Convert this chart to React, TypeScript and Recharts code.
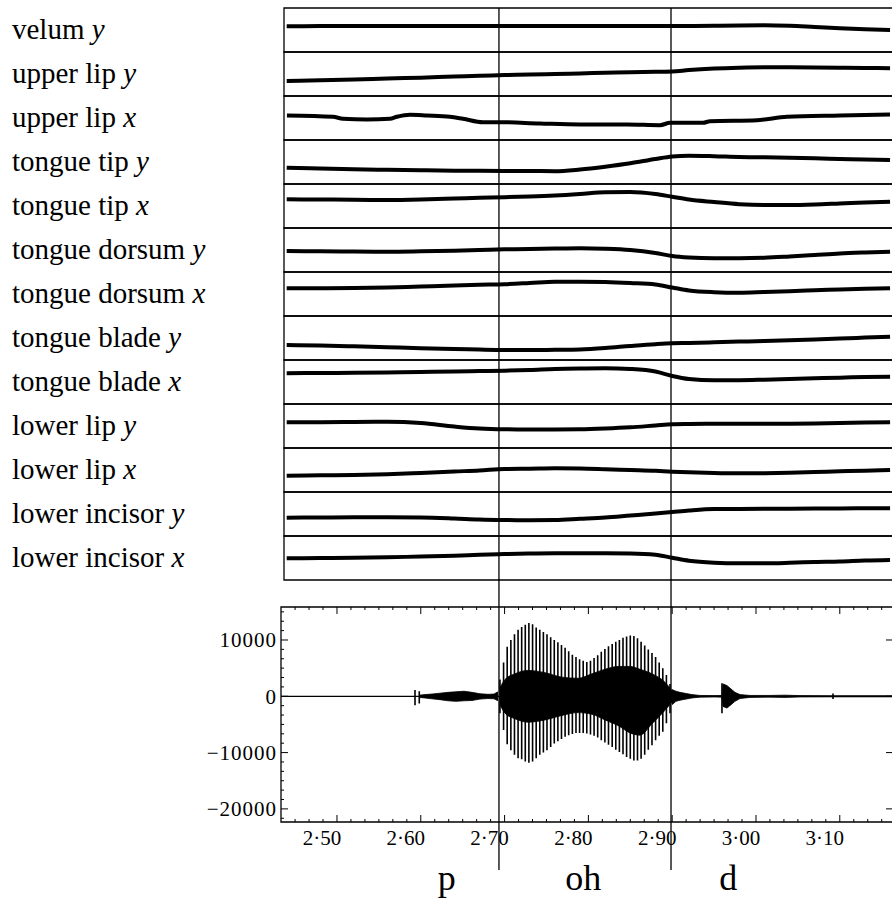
import {
  LineChart, ComposedChart, Line, Area, XAxis, YAxis, ReferenceLine, ReferenceArea,
} from 'recharts';

// articulator traces: displacement (arbitrary units, up = positive) sampled at these times (s)
const sampleTimes = [
  2.44, 2.48, 2.52, 2.56, 2.60, 2.64, 2.67, 2.70, 2.73, 2.76, 2.79, 2.82,
  2.85, 2.88, 2.90, 2.92, 2.95, 2.98, 3.01, 3.04, 3.07, 3.10, 3.13, 3.16,
];

const stripNames = [
  'velum', 'upper lip', 'upper lip', 'tongue tip', 'tongue tip', 'tongue dorsum',
  'tongue dorsum', 'tongue blade', 'tongue blade', 'lower lip', 'lower lip',
  'lower incisor', 'lower incisor',
];
const stripCoords = ['y', 'y', 'x', 'y', 'x', 'y', 'x', 'y', 'x', 'y', 'x', 'y', 'x'];

const velumY = [3.8, 3.9, 4, 4, 4.1, 4, 4, 4, 4.1, 4.1, 4, 4, 4, 4, 3.9, 4, 4.3, 4.5, 4.7, 4.2, 3, 1.8, 0.8, 0];
const upperLipY = [-7, -6.3, -5.5, -4.5, -3.7, -2.5, -1.8, -1, -0.5, 0, 0.6, 1.2, 1.8, 2.2, 2.5, 4, 5.5, 6.3, 6.7, 6.7, 6.5, 6.2, 6, 5.8];
// upper lip x is jittery, read on its own finer grid
const upperLipXTimes = [
  2.4403, 2.4952, 2.5072, 2.5358, 2.5632, 2.5716, 2.5871, 2.6074, 2.6348, 2.6504, 2.6742,
  2.6945, 2.7422, 2.79, 2.8461, 2.8854, 2.8974, 2.9368, 2.9451, 3.0012, 3.037, 3.1002, 3.1599,
];
const upperLipX = [2.5, 1.2, -0.8, -1.5, -0.8, 1.2, 3.2, 2.5, 1.2, -0.8, -4.2, -4.2, -5.5, -6.5, -6.5, -7.2, -4.8, -4.8, -3.2, -2.2, 1.2, 2.5, 3.5];
const tongueTipY = [-5.7, -6.5, -7.2, -7.8, -8.3, -8.7, -8.8, -8.9, -9, -9.2, -7.5, -4.7, -1.3, 3, 5.5, 6.3, 5.8, 5, 4.7, 4.3, 3.7, 3, 2.5, 2];
const tongueTipX = [6.7, 6.5, 6.3, 6, 6.5, 7.5, 8.3, 8.8, 9.5, 10.5, 12, 13.8, 14, 12, 9.3, 6.5, 4, 1.8, 1, 1, 1.5, 2.5, 3.5, 4.3];
const tongueDorsumY = [-1, -1.3, -1.5, -1.7, -1.3, -0.7, 0, 0.7, 1, 1.5, 1.8, 1.3, 0, -3, -6, -7.5, -8.3, -8.3, -7.8, -6.5, -5, -3.5, -2.5, -1.7];
const tongueDorsumX = [5.7, 5.8, 6, 6.5, 7.5, 8.5, 9.2, 9.8, 11, 12.3, 12.3, 12, 11, 9.5, 6.5, 3.5, 1.8, 1.3, 2, 2.8, 3.7, 4.5, 5.2, 5.7];
const tongueBladeY = [-7, -7.5, -8.3, -9.2, -10.2, -11, -11.6, -12, -12, -11.8, -11.4, -10, -8, -6.2, -5.3, -5, -4.3, -3.6, -3, -2.3, -1.5, -0.6, 0.4, 1.3];
const tongueBladeX = [8.7, 9, 9.2, 9.5, 10, 10.5, 11, 11.3, 12, 13, 13.5, 13.7, 13, 10.5, 6, 3, 1.8, 1.8, 2.3, 3, 3.7, 4.3, 5, 5.3];
const lowerLipY = [3.7, 3.8, 4, 4.2, 3, -0.5, -2.5, -3.3, -3.5, -3.5, -3.3, -2.5, -1.3, 0.5, 1.7, 2, 2.2, 2.2, 2.2, 2.3, 2.5, 3, 3.5, 3.7];
const lowerLipX = [-5.7, -5.3, -5, -4.3, -3, -1.5, -0.5, 1, 1.3, 1.7, 1.5, 0.8, 0, -0.8, -1.7, -2.3, -3, -3.3, -3.2, -2.8, -2, -1.3, -0.7, 0];
const lowerIncisorY = [-3.7, -3.5, -3.3, -3.3, -3.5, -4.5, -5.5, -6, -6.2, -6, -4.8, -3.5, -1.5, 0.5, 2, 3.5, 5, 5.1, 5.2, 5.3, 5.5, 5.5, 5.7, 5.7];
const lowerIncisorX = [-0.3, 0, 0.3, 0.7, 1.5, 2.3, 3.3, 4, 4.5, 4.7, 4.7, 4.7, 4.5, 3.3, 0.3, -2.7, -4.7, -5.3, -5.3, -4.8, -4, -3.5, -2.5, -2];

const stripSeries = [
  velumY, upperLipY, upperLipX, tongueTipY, tongueTipX, tongueDorsumY, tongueDorsumX,
  tongueBladeY, tongueBladeX, lowerLipY, lowerLipX, lowerIncisorY, lowerIncisorX,
];

// segment boundaries and labels
const boundaries = [2.6933, 2.8986];
const segLabels = ['p', 'oh', 'd'];
const segCenters = [2.631, 2.794, 2.967];

// acoustic waveform: glottal pulses (peak high / low)
const pulseTimes = [
  2.6945, 2.6988, 2.7031, 2.7075, 2.7118, 2.7161, 2.7204, 2.7247, 2.729, 2.7334, 2.7377, 2.742,
  2.7463, 2.7506, 2.755, 2.7593, 2.7636, 2.7679, 2.7722, 2.7765, 2.7809, 2.7852, 2.7895, 2.7938,
  2.7981, 2.8025, 2.8068, 2.8111, 2.8154, 2.8197, 2.824, 2.8284, 2.8327, 2.837, 2.8413, 2.8456,
  2.85, 2.8543, 2.8586, 2.8629, 2.8672, 2.8715, 2.8759, 2.8802, 2.8845, 2.8888, 2.8931, 2.8974,
];
const pulseHigh = [
  3000, 6000, 8800, 10000, 11000, 11800, 12300, 12700, 13000, 12800, 12200, 11800,
  11400, 11000, 10500, 10000, 9600, 9100, 8600, 8000, 7400, 7000, 6600, 6300,
  6100, 6300, 6800, 7300, 7900, 8400, 8900, 9300, 9700, 10000, 10400, 10600,
  10800, 10700, 10300, 9700, 9000, 8300, 7700, 7000, 6000, 5000, 3800, 2200,
];
const pulseLow = [
  -3000, -6000, -8500, -9600, -10400, -11000, -11200, -11600, -11800, -11600, -11000, -10400,
  -10000, -9600, -9000, -8400, -8000, -7600, -7200, -6900, -6700, -6500, -6500, -6500,
  -6600, -6800, -7000, -7300, -7800, -8200, -8600, -9000, -9500, -9900, -10300, -10800,
  -11100, -11400, -11400, -11100, -10400, -9500, -8700, -7800, -7000, -6300, -4800, -3000,
];
// isolated bursts (release of p, release of d, small click)
const spikeTimes = [2.5931, 2.5982, 2.9594, 3.0919];
const spikeHigh = [1100, 900, 2300, 500];
const spikeLow = [-1600, -1300, -3000, -500];

// dense core of the voiced section
const coreTimes = [2.6945, 2.7005, 2.7124, 2.7279, 2.7482, 2.7685, 2.7876, 2.8043, 2.8198, 2.8353, 2.8496, 2.8616, 2.8759, 2.8914, 2.8998];
const coreHigh = [1500, 3000, 4000, 4600, 4200, 3400, 3200, 4000, 4800, 5300, 5300, 4800, 4000, 2500, 1000];
const coreLow = [-1500, -3000, -4000, -4600, -4200, -3400, -2900, -3200, -4200, -5200, -6500, -6900, -4900, -2500, -1000];

// aspiration noise before voicing
const preTimes = [2.5979, 2.605, 2.6134, 2.6229, 2.6325, 2.642, 2.6516, 2.6611, 2.6706, 2.6802, 2.6874, 2.6921];
const preHigh = [200, 300, 400, 550, 700, 800, 900, 700, 450, 350, 400, 800];
const preLow = [-200, -300, -450, -600, -800, -900, -800, -750, -500, -400, -450, -800];

// ringing after voicing and the d burst
const postTimes = [2.8998, 2.9045, 2.9093, 2.9165, 2.9236, 2.9332, 2.9511, 2.9594, 2.9606, 2.9654, 2.9702, 2.9749, 2.9809, 2.9928, 3.0167, 3.0346, 3.0525, 3.0883, 3.1241, 3.1635];
const postHigh = [1200, 900, 700, 500, 300, 150, 120, 150, 2200, 1900, 1300, 700, 300, 150, 150, 200, 120, 100, 100, 100];
const postLow = [-1500, -900, -700, -500, -300, -150, -120, -150, -1800, -2100, -1500, -900, -400, -200, -150, -200, -120, -100, -100, -100];

const majorXTicks = [2.5, 2.6, 2.7, 2.8, 2.9, 3.0, 3.1];
const minorXTicks: number[] = [];
for (let k = -3; k <= 39; k++) if (k % 6 !== 0) minorXTicks.push(2.5 + k / 60);
const majorYTicks = [-20000, -10000, 0, 10000];
const minorYTicks: number[] = [];
for (let k = -13; k <= 9; k++) if (k % 6 !== 0) minorYTicks.push((k * 10000) / 6);

const stripDomain: [number, number] = [2.4368, 3.1635];
const waveDomain: [number, number] = [2.4332, 3.1635];
const yDomain: [number, number] = [-22330, 15860];

const FONT = '"Liberation Serif", "Times New Roman", serif';
const PLOT_H = 215;
const PLOT_W = 612;
const X_AXIS_H = 30;
const SEG_SPACE = 48;
const TOP_GAP = 28;

const isMajor = (list: number[], v: number) => list.some((m) => Math.abs(m - v) < 1e-6);

const range = (lo: number[], hi: number[], ts: number[]) =>
  ts.map((t, i) => ({ t, range: [lo[i], hi[i]] }));

// each pulse becomes a vertical stroke: high, low, then a break
const strokes = (lo: number[], hi: number[], ts: number[]) =>
  ts.flatMap((t, i) => [{ t, w: hi[i] }, { t, w: lo[i] }, { t, w: null }]);

function Strip({ index }: { index: number }) {
  const ts = index === 2 ? upperLipXTimes : sampleTimes;
  const vals = stripSeries[index];
  const rows = ts.map((t, i) => ({ t, v: vals[i] }));
  return (
    <div style={{ position: 'absolute', left: 0, top: 7 + 44 * index }}>
      <LineChart width={900} height={46} data={rows} margin={{ top: 1, right: 7, bottom: 1, left: 0 }}>
        <XAxis type="number" dataKey="t" domain={stripDomain} hide allowDataOverflow />
        <YAxis
          type="number" domain={[-22, 22]} width={284} ticks={[0]} interval={0}
          tickLine={false} axisLine={false} allowDataOverflow
          tick={(p: any) => (
            <text x={12} y={p.y + 9} fontSize={29} fill="#000" fontFamily={FONT}>
              {stripNames[index]} <tspan fontStyle="italic">{stripCoords[index]}</tspan>
            </text>
          )}
        />
        <ReferenceArea
          x1={stripDomain[0]} x2={stripDomain[1]} y1={-22} y2={22}
          fill="none" stroke="#000" strokeWidth={1.3} ifOverflow="visible"
        />
        {boundaries.map((b) => (
          <ReferenceLine key={b} x={b} stroke="#000" strokeWidth={1.3} />
        ))}
        <Line dataKey="v" type="monotone" stroke="#000" strokeWidth={4} dot={false} isAnimationActive={false} />
      </LineChart>
    </div>
  );
}

// boundary line that runs from the strips above down past the tick labels
const ExtendedLine = (p: any) => (
  <line
    x1={p.x1} x2={p.x2}
    y1={Math.min(p.y1, p.y2) - TOP_GAP} y2={Math.max(p.y1, p.y2) + 48}
    stroke="#000" strokeWidth={1.3}
  />
);

// x tick: inward tick on bottom and top edge, label under majors
const XTick = (p: any) => {
  const v = p.payload.value;
  const major = isMajor(majorXTicks, v);
  const len = major ? 7 : 3;
  return (
    <g>
      <line x1={p.x} x2={p.x} y1={p.y} y2={p.y - len} stroke="#000" strokeWidth={1} />
      <line x1={p.x} x2={p.x} y1={p.y - PLOT_H} y2={p.y - PLOT_H + len} stroke="#000" strokeWidth={1} />
      {major && (
        <text x={p.x - 15} y={p.y + 8} dy="0.71em" textAnchor="middle" fontSize={21} fill="#000" fontFamily={FONT}>
          {v.toFixed(2).replace('.', '\u00b7')}
        </text>
      )}
    </g>
  );
};

// y tick: inward tick on left and right edge, label beside majors
const YTick = (p: any) => {
  const v = p.payload.value;
  const major = isMajor(majorYTicks, v);
  const len = major ? 7 : 3;
  return (
    <g>
      <line x1={p.x} x2={p.x + len} y1={p.y} y2={p.y} stroke="#000" strokeWidth={1} />
      {major && <line x1={p.x + PLOT_W} x2={p.x + PLOT_W - len} y1={p.y} y2={p.y} stroke="#000" strokeWidth={1} />}
      {major && (
        <text x={p.x - 4} y={p.y} dy="0.35em" textAnchor="end" fontSize={21} letterSpacing={1} fill="#000" fontFamily={FONT}>
          {v < 0 ? '\u2212' + Math.abs(v) : String(v)}
        </text>
      )}
    </g>
  );
};

function Waveform() {
  const strokeRows = [
    ...strokes(spikeLow.slice(0, 2), spikeHigh.slice(0, 2), spikeTimes.slice(0, 2)),
    ...strokes(pulseLow, pulseHigh, pulseTimes),
    ...strokes(spikeLow.slice(2), spikeHigh.slice(2), spikeTimes.slice(2)),
  ];
  return (
    <div style={{ position: 'absolute', left: 0, top: 607 - TOP_GAP }}>
      <ComposedChart
        width={900} height={TOP_GAP + PLOT_H + X_AXIS_H + SEG_SPACE}
        margin={{ top: TOP_GAP, right: 7, bottom: SEG_SPACE, left: 0 }}
      >
        <XAxis
          type="number" dataKey="t" domain={waveDomain} allowDataOverflow
          ticks={[...majorXTicks, ...minorXTicks]} interval={0} height={X_AXIS_H}
          tickLine={false} axisLine={false} tickSize={0} tickMargin={0} tick={XTick}
        />
        <YAxis
          type="number" domain={yDomain} allowDataOverflow width={281}
          ticks={[...majorYTicks, ...minorYTicks]} interval={0}
          tickLine={false} axisLine={false} tickSize={0} tickMargin={0} tick={YTick}
        />
        <ReferenceArea
          x1={waveDomain[0]} x2={waveDomain[1]} y1={yDomain[0]} y2={yDomain[1]}
          fill="none" stroke="#000" strokeWidth={1.3} ifOverflow="visible"
        />
        <ReferenceLine y={0} stroke="#000" strokeWidth={1.2} />
        <Area
          data={range(preLow, preHigh, preTimes)} dataKey="range"
          type="linear" fill="#000" fillOpacity={1} stroke="#000" strokeWidth={0.8} isAnimationActive={false}
        />
        <Area
          data={range(coreLow, coreHigh, coreTimes)} dataKey="range"
          type="monotone" fill="#000" fillOpacity={1} stroke="#000" strokeWidth={0.8} isAnimationActive={false}
        />
        <Area
          data={range(postLow, postHigh, postTimes)} dataKey="range"
          type="linear" fill="#000" fillOpacity={1} stroke="#000" strokeWidth={0.8} isAnimationActive={false}
        />
        <Line
          data={strokeRows} dataKey="w" type="linear" stroke="#000" strokeWidth={1.6}
          dot={false} connectNulls={false} isAnimationActive={false}
        />
        {boundaries.map((b) => (
          <ReferenceLine key={b} x={b} shape={ExtendedLine} />
        ))}
        {segCenters.map((c, i) => (
          <ReferenceLine
            key={c} x={c} stroke="none"
            label={{ value: segLabels[i], position: 'bottom', offset: 42, fontSize: 36, fill: '#000', fontFamily: FONT }}
          />
        ))}
      </ComposedChart>
    </div>
  );
}

export default function App() {
  return (
    <div
      style={{
        position: 'fixed', left: 0, top: 0, width: 892, height: 900,
        overflow: 'hidden', background: '#fff', fontFamily: FONT,
      }}
    >
      {stripNames.map((_, i) => (
        <Strip key={i} index={i} />
      ))}
      <Waveform />
    </div>
  );
}
